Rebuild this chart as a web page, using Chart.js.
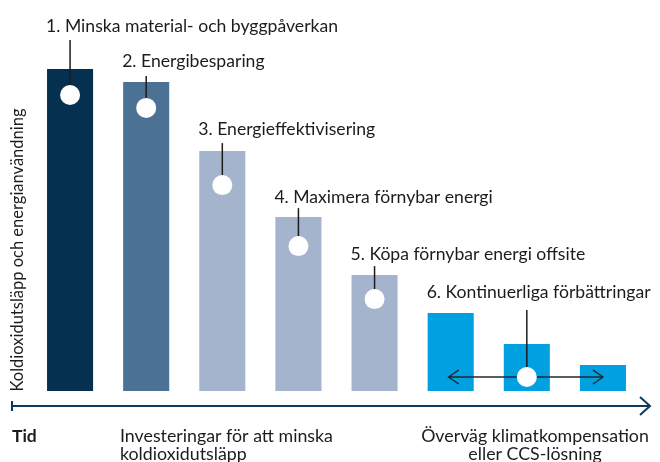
<!DOCTYPE html>
<html>
<head>
<meta charset="utf-8">
<script src="https://cdn.jsdelivr.net/npm/chart.js@4"></script>
<style>
html,body{margin:0;padding:0;background:#fff;}
#wrap{width:660px;height:462px;position:relative;}
</style>
</head>
<body>
<div id="wrap"><canvas id="c" width="660" height="462"></canvas></div>
<script>
// ---- data ----
const categories = ["1","2","3","4","5","6a","6b","6c"];
const values = [100, 96, 74.5, 54, 36, 24.2, 14.6, 8.1];
const barColors = ["#05304f","#4b7195","#a3b4cc","#a3b4cc","#a3b4cc","#00a0e1","#00a0e1","#00a0e1"];
const stepLabels = [
  "1. Minska material- och byggpåverkan",
  "2. Energibesparing",
  "3. Energieffektivisering",
  "4. Maximera förnybar energi",
  "5. Köpa förnybar energi offsite",
  "6. Kontinuerliga förbättringar"
];
const yTitle = "Koldioxidutsläpp och energianvändning";
const xStart = "Tid";
const phase1 = ["Investeringar för att minska", "koldioxidutsläpp"];
const phase2 = ["Överväg klimatkompensation", "eller CCS-lösning"];

// label layout (style only): bar index for text, bar index for leader/circle, offsets
const labelLayout = [
  {textBar:0, markBar:0, textDy:-37, lineDy:-29, circleDy:26},
  {textBar:1, markBar:1, textDy:-15, lineDy:-6, circleDy:26},
  {textBar:2, markBar:2, textDy:-16, lineDy:-8, circleDy:34},
  {textBar:3, markBar:3, textDy:-14, lineDy:-9, circleDy:29},
  {textBar:4, markBar:4, textDy:-15, lineDy:-9, circleDy:24},
  {textBar:5, markBar:6, textDy:-15, lineDy:-3, circleDy:null}
];

const overlay = {
  id:'overlay',
  afterDatasetsDraw(chart){
    const ctx = chart.ctx;
    const meta = chart.getDatasetMeta(0);
    const bars = meta.data;
    const base = chart.scales.y.getPixelForValue(0);
    ctx.save();
    // arrow across last group
    const arrowY = base - 14;
    const xL = bars[5].x - 2, xR = bars[7].x;
    ctx.strokeStyle = "#1e2a33";
    ctx.lineWidth = 1.5;
    ctx.beginPath();
    ctx.moveTo(xL, arrowY); ctx.lineTo(xR, arrowY);
    ctx.moveTo(xL+10, arrowY-7); ctx.lineTo(xL, arrowY); ctx.lineTo(xL+10, arrowY+7);
    ctx.moveTo(xR-10, arrowY-7); ctx.lineTo(xR, arrowY); ctx.lineTo(xR-10, arrowY+7);
    ctx.stroke();

    // labels, leader lines, circles
    ctx.font = "17.6px Lato";
    ctx.textBaseline = "alphabetic";
    ctx.textAlign = "left";
    labelLayout.forEach((L,i)=>{
      const tb = bars[L.textBar];
      const mb = bars[L.markBar];
      const tLeft = tb.x - tb.width/2;
      const tTop = tb.y;
      ctx.fillStyle = "#1c1c1c";
      ctx.fillText(stepLabels[i], tLeft - 1, tTop + L.textDy);
      const cy = L.circleDy === null ? arrowY : mb.y + L.circleDy;
      ctx.strokeStyle = "#1c1c1c";
      ctx.lineWidth = 1.5;
      ctx.beginPath();
      ctx.moveTo(mb.x, tTop + L.lineDy);
      ctx.lineTo(mb.x, cy);
      ctx.stroke();
      ctx.fillStyle = "#ffffff";
      ctx.beginPath();
      ctx.arc(mb.x, cy, 10, 0, Math.PI*2);
      ctx.fill();
    });

    // time axis
    const axY = base + 15;
    ctx.strokeStyle = "#0b3a5c";
    ctx.lineWidth = 2;
    ctx.beginPath();
    ctx.moveTo(12, axY); ctx.lineTo(650, axY);
    ctx.moveTo(12, axY-5); ctx.lineTo(12, axY+5);
    ctx.moveTo(640, axY-9); ctx.lineTo(650, axY); ctx.lineTo(640, axY+9);
    ctx.stroke();

    // bottom texts
    ctx.fillStyle = "#1c1c1c";
    ctx.font = "bold 17.5px Lato";
    ctx.textAlign = "left";
    ctx.fillText(xStart, 12, axY + 36);
    ctx.font = "17.8px Lato";
    ctx.fillText(phase1[0], 120, axY + 36);
    ctx.fillText(phase1[1], 120, axY + 54);
    ctx.textAlign = "center";
    ctx.fillText(phase2[0], 535, axY + 36);
    ctx.fillText(phase2[1], 535, axY + 54);

    // y title
    ctx.save();
    ctx.translate(23, 250);
    ctx.rotate(-Math.PI/2);
    ctx.font = "16.5px Lato";
    ctx.textAlign = "center";
    ctx.fillText(yTitle, 0, 0);
    ctx.restore();

    ctx.restore();
  }
};

new Chart(document.getElementById('c'), {
  type:'bar',
  data:{
    labels: categories,
    datasets:[{
      data: values,
      backgroundColor: barColors,
      borderWidth:0,
      categoryPercentage:1,
      barPercentage:0.605
    }]
  },
  options:{
    responsive:false,
    animation:false,
    layout:{padding:{left:32,right:19,top:69,bottom:71}},
    plugins:{legend:{display:false},tooltip:{enabled:false}},
    scales:{
      x:{display:false},
      y:{display:false,min:0,max:100}
    }
  },
  plugins:[overlay]
});
</script>
</body>
</html>
